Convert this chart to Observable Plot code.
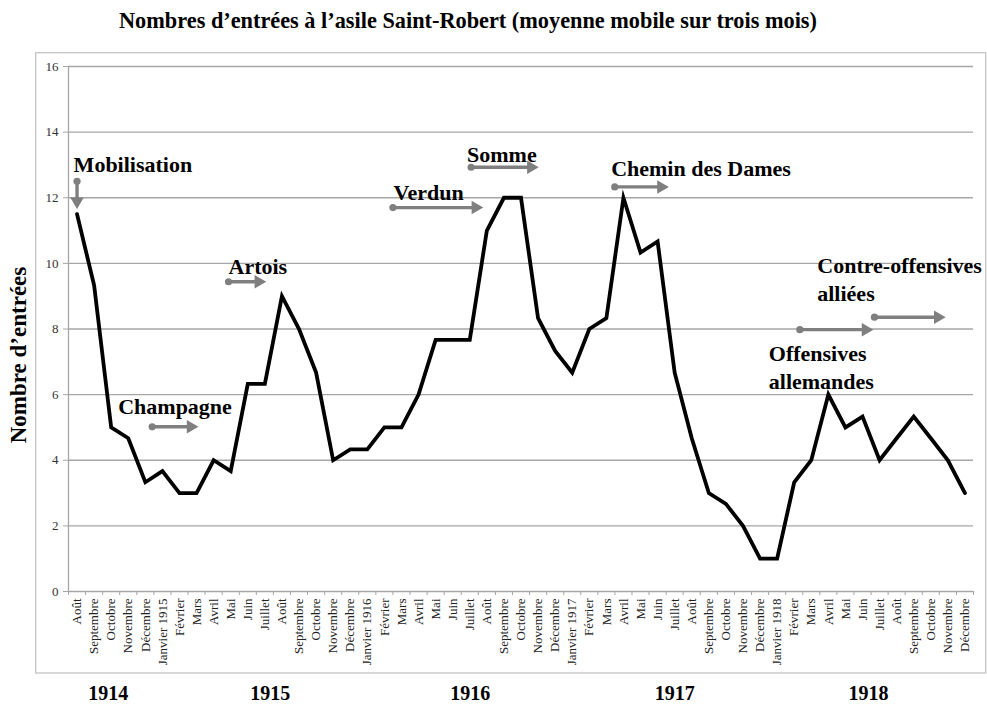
<!DOCTYPE html>
<html>
<head>
<meta charset="utf-8">
<script src="https://cdn.jsdelivr.net/npm/d3@7"></script>
<script src="https://cdn.jsdelivr.net/npm/@observablehq/plot@0.6"></script>
<style>
  html, body { margin: 0; padding: 0; background: white; }
  #chart svg { display: block; }
</style>
</head>
<body>
<div id="chart"></div>
<script>
// ---- Data ----
const months = ["Août","Septembre","Octobre","Novembre","Décembre",
  "Janvier 1915","Février","Mars","Avril","Mai","Juin","Juillet","Août","Septembre","Octobre","Novembre","Décembre",
  "Janvier 1916","Février","Mars","Avril","Mai","Juin","Juillet","Août","Septembre","Octobre","Novembre","Décembre",
  "Janvier 1917","Février","Mars","Avril","Mai","Juin","Juillet","Août","Septembre","Octobre","Novembre","Décembre",
  "Janvier 1918","Février","Mars","Avril","Mai","Juin","Juillet","Août","Septembre","Octobre","Novembre","Décembre"];
const values = [11.5, 9.33, 5, 4.67, 3.33,
  3.67, 3, 3, 4, 3.67, 6.33, 6.33, 9, 8, 6.67, 4, 4.33,
  4.33, 5, 5, 6, 7.67, 7.67, 7.67, 11, 12, 12, 8.33, 7.33,
  6.67, 8, 8.33, 12, 10.33, 10.67, 6.67, 4.67, 3, 2.67, 2, 1,
  1, 3.33, 4, 6, 5, 5.33, 4, 4.67, 5.33, 4.67, 4, 3];
const years = ["1914", "1915", "1916", "1917", "1918"];
const yTicks = [0, 2, 4, 6, 8, 10, 12, 14, 16];

// Event annotations (time in month index, level in number of entries)
const events = ["Mobilisation", "Champagne", "Artois", "Verdun", "Somme",
  "Chemin des Dames", "Offensives\nallemandes", "Contre-offensives\nalliées"];
const eventStart = [0, 4.4, 8.87, 18.5, 23.08, 31.49, 42.33, 46.7];
const eventEnd   = [0, 7.1, 11.07, 23.78, 27.03, 34.65, 46.63, 50.86];
const eventLevelStart = [12.5, 5.02, 9.44, 11.7, 12.93, 12.33, 7.98, 8.36];
const eventLevelEnd   = [11.66, 5.02, 9.44, 11.7, 12.93, 12.33, 7.98, 8.36];

// ---- Layout (annotation text anchors, year label positions) ----
const labelX = [-0.2, 2.41, 8.87, 18.54, 22.84, 31.28, 40.51, 43.35];
const labelY = [13.06, 5.67, 9.96, 12.19, 13.36, 12.93, 6.88, 9.55];
const yearX = [1.83, 11.32, 23.03, 35.0, 46.35];

const series = values.map((v, i) => ({i, v}));
const arrows = events.map((e, k) => {
  const horiz = eventLevelStart[k] === eventLevelEnd[k];
  return {
    horiz,
    x1: eventStart[k], y1: eventLevelStart[k],
    x2: eventEnd[k] - (horiz ? 0.3 : 0),
    y2: eventLevelEnd[k] + (horiz ? 0 : 0.16),
    tx: eventEnd[k], ty: eventLevelEnd[k]
  };
});
const hArrows = arrows.filter(d => d.horiz);
const vArrows = arrows.filter(d => !d.horiz);
const labels = events.map((e, k) => ({text: e, x: labelX[k], y: labelY[k]}));
const idx = months.map((_, i) => i);
const bounds = d3.range(-0.5, months.length, 1);
const gray = "#7f7f7f";
const axisGray = "#a6a6a6";
const serif = "'Liberation Serif', 'Times New Roman', serif";

const plot = Plot.plot({
  width: 987,
  height: 706,
  marginLeft: 68,
  marginRight: 14,
  marginTop: 66,
  marginBottom: 115,
  style: {fontFamily: serif, background: "white", color: "black"},
  x: {domain: [-0.5, months.length - 0.5]},
  y: {domain: [0, 16]},
  marks: [
    Plot.gridY(yTicks.filter(d => d > 0), {stroke: axisGray, strokeOpacity: 1, strokeWidth: 1.3}),
    Plot.ruleY([0], {stroke: axisGray, strokeWidth: 1.3}),
    Plot.ruleX([-0.5], {y1: 0, y2: 16, stroke: axisGray, strokeWidth: 1.3}),
    Plot.axisY(yTicks, {tickSize: 5, tickPadding: 5, stroke: axisGray, fontSize: 13, fill: "#333", label: null}),
    Plot.axisX(bounds, {tickSize: 4, stroke: axisGray, tickFormat: () => "", label: null}),
    Plot.axisX(idx, {tickSize: 0, tickPadding: 7, tickRotate: -90, fontSize: 13, fill: "#222",
      tickFormat: i => months[i], label: null}),
    Plot.line(series, {x: "i", y: "v", stroke: "black", strokeWidth: 3.8, strokeLinejoin: "miter", strokeMiterlimit: 10}),
    // arrows
    Plot.link(arrows, {x1: "x1", y1: "y1", x2: "x2", y2: "y2", stroke: gray, strokeWidth: 3.4}),
    Plot.dot(arrows, {x: "x1", y: "y1", r: 3.6, fill: gray, stroke: null}),
    Plot.dot(hArrows, {x: "tx", y: "ty", symbol: "triangle", r: 5, fill: gray, stroke: null, rotate: 90, dx: -7.6}),
    Plot.dot(vArrows, {x: "tx", y: "ty", symbol: "triangle", r: 5, fill: gray, stroke: null, rotate: 180, dy: -7.6}),
    // annotation labels
    Plot.text(labels, {x: "x", y: "y", text: "text", textAnchor: "start", fontSize: 22, fontWeight: "bold",
      fill: "black", lineHeight: 1.27, fontFamily: serif}),
    // years
    Plot.text(years, {x: (d, k) => yearX[k], y: () => 0, text: d => d, dy: 102, fontSize: 20, fontWeight: "bold", fill: "black", fontFamily: serif})
  ]
});

const svg = d3.select(plot);
document.getElementById("chart").appendChild(plot);

svg.insert("rect", ":first-child")
  .attr("x", 35.7).attr("y", 52.7).attr("width", 950).attr("height", 620.3)
  .attr("fill", "none").attr("stroke", "#c4c4c4").attr("stroke-width", 1.3);
svg.insert("rect", ":first-child")
  .attr("x", 0).attr("y", 0).attr("width", 987).attr("height", 706).attr("fill", "white");

svg.append("text")
  .attr("x", 468).attr("y", 28)
  .attr("text-anchor", "middle")
  .attr("font-size", 22.3).attr("font-weight", "bold")
  .attr("font-family", serif)
  .text("Nombres d’entrées à l’asile Saint-Robert (moyenne mobile sur trois mois)");

svg.append("text")
  .attr("transform", "translate(26,355) rotate(-90)")
  .attr("text-anchor", "middle")
  .attr("font-size", 23).attr("font-weight", "bold")
  .attr("font-family", serif)
  .text("Nombre d’entrées");
</script>
</body>
</html>
